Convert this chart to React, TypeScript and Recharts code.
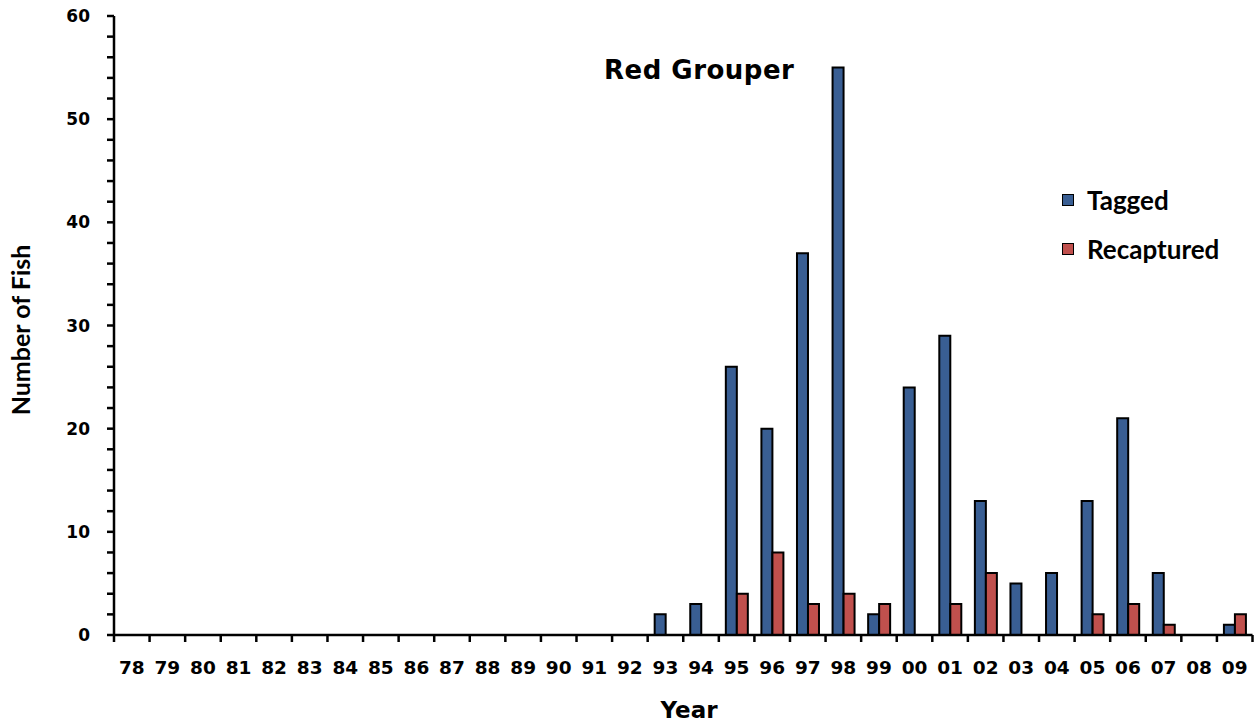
import React from 'react';
import { BarChart, Bar, XAxis, YAxis } from 'recharts';

const categories = ['78','79','80','81','82','83','84','85','86','87','88','89','90','91','92','93','94','95','96','97','98','99','00','01','02','03','04','05','06','07','08','09'];
const tagged =     [0,0,0,0,0,0,0,0,0,0,0,0,0,0,0, 2,3,26,20,37,55,2,24,29,13,5,6,13,21,6,0,1];
const recaptured = [0,0,0,0,0,0,0,0,0,0,0,0,0,0,0, 0,0,4,8,3,4,3,0,3,6,0,0,2,3,1,0,2];
const yTicks = [0,2,4,6,8,10,12,14,16,18,20,22,24,26,28,30,32,34,36,38,40,42,44,46,48,50,52,54,56,58,60];
const seriesNames = ['Tagged', 'Recaptured'];

const data = categories.map((c, i) => ({
  year: c,
  Tagged: tagged[i] === 0 ? null : tagged[i],
  Recaptured: recaptured[i] === 0 ? null : recaptured[i],
}));

const W = 1257;
const H = 725;
const LEFT = 114;
const RIGHT_M = 4.5;
const BAND = (W - LEFT - RIGHT_M) / categories.length;

const TAG_COLOR = '#395E93';
const REC_COLOR = '#C0504D';
const COLORS = [TAG_COLOR, REC_COLOR];
const TICK_FONT = '"DejaVu Sans", Verdana, sans-serif';
const LABEL_FONT = 'Lato, "Open Sans", sans-serif';

const XTick = (props: any) => {
  const { x, y, payload, index } = props;
  const half = BAND / 2;
  return (
    <g>
      <line x1={x - half} x2={x - half} y1={y} y2={y + 7} stroke="#000" strokeWidth={2.5} />
      {index === categories.length - 1 && (
        <line x1={x + half} x2={x + half} y1={y} y2={y + 7} stroke="#000" strokeWidth={2.5} />
      )}
      <text x={x} y={y + 39} textAnchor="middle" fontFamily={TICK_FONT} fontWeight="bold" fontSize={18.5} fill="#000">
        {payload.value}
      </text>
    </g>
  );
};

export default function App() {
  return (
    <div style={{ position: 'absolute', left: 0, top: 0, width: W, height: H, background: '#fff' }}>
      <BarChart
        width={W}
        height={H}
        data={data}
        margin={{ top: 16, right: RIGHT_M, left: 0, bottom: 0 }}
        barGap={0}
        barSize={11}
      >
        <XAxis
          dataKey="year"
          height={90}
          tickLine={false}
          tickSize={0}
          tickMargin={0}
          axisLine={{ stroke: '#000', strokeWidth: 2.5 }}
          tick={<XTick />}
          interval={0}
          label={{
            content: () => (
              <text x={689} y={718} textAnchor="middle" fontFamily={TICK_FONT} fontWeight="bold" fontSize={23} fill="#000">
                Year
              </text>
            ),
          }}
        />
        <YAxis
          width={LEFT}
          domain={[0, 60]}
          ticks={yTicks}
          interval={0}
          tickFormatter={(v: number) => (v % 10 === 0 ? String(v) : '')}
          tickSize={7}
          tickMargin={17}
          tickLine={{ stroke: '#000', strokeWidth: 2.5 }}
          axisLine={{ stroke: '#000', strokeWidth: 2.5 }}
          tick={{ fontFamily: TICK_FONT, fontWeight: 'bold', fontSize: 17, fill: '#000' }}
          label={{
            content: () => (
              <text
                x={20}
                y={330}
                transform="rotate(-90 20 330)"
                textAnchor="middle"
                dominantBaseline="central"
                fontFamily={LABEL_FONT}
                fontWeight="bold"
                fontSize={25}
                fill="#000"
              >
                Number of Fish
              </text>
            ),
          }}
        />
        <Bar dataKey="Tagged" fill={TAG_COLOR} stroke="#000" strokeWidth={2} isAnimationActive={false} />
        <Bar dataKey="Recaptured" fill={REC_COLOR} stroke="#000" strokeWidth={2} isAnimationActive={false} />
      </BarChart>
      <div
        style={{
          position: 'absolute',
          left: 1062,
          top: 185,
          fontFamily: LABEL_FONT,
          fontWeight: 'bold',
          fontSize: 26,
          color: '#000',
        }}
      >
        {seriesNames.map((name, i) => (
          <div key={name} style={{ display: 'flex', alignItems: 'center', height: 30, marginBottom: i === 0 ? 19 : 0 }}>
            <span style={{ display: 'inline-block', width: 10, height: 10, background: COLORS[i], border: '1.5px solid #000', marginRight: 13 }} />
            <span>{name}</span>
          </div>
        ))}
      </div>
      <div
        style={{
          position: 'absolute',
          left: 604,
          top: 55,
          fontFamily: TICK_FONT,
          fontWeight: 'bold',
          fontSize: 26,
          letterSpacing: 0.5,
          color: '#000',
          lineHeight: '30px',
          whiteSpace: 'nowrap',
        }}
      >
        Red Grouper
      </div>
    </div>
  );
}
